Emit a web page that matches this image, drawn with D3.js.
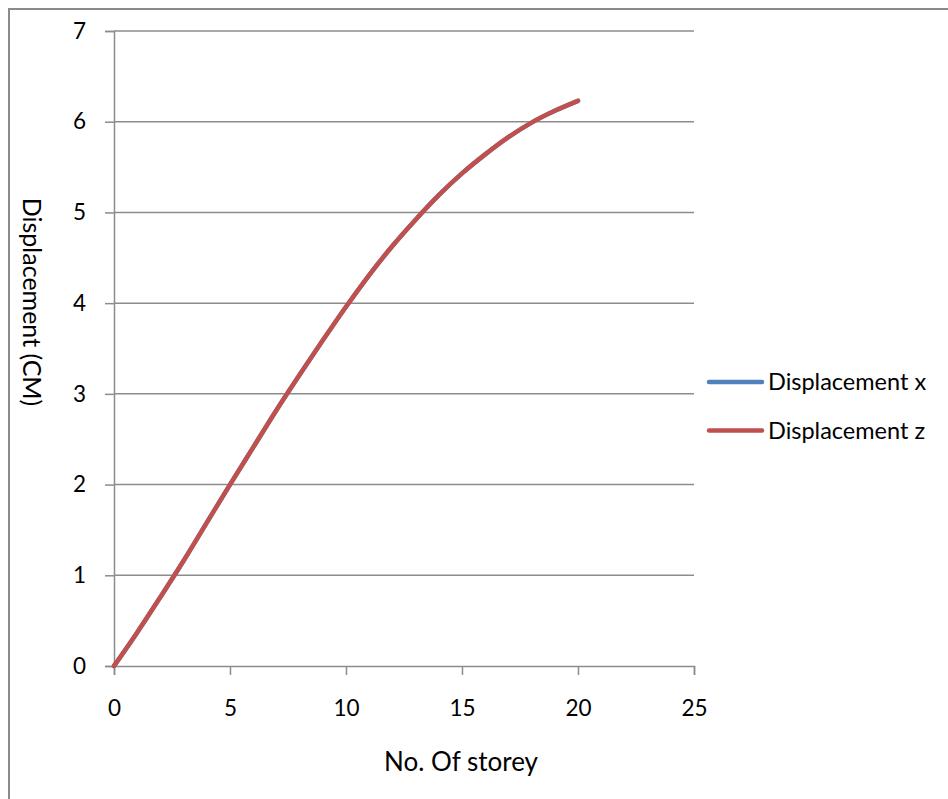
<!DOCTYPE html>
<html>
<head>
<meta charset="utf-8">
<script src="https://cdn.jsdelivr.net/npm/d3@7"></script>
<style>
  html, body { margin: 0; padding: 0; background: #fff; }
  svg { display: block; }
  text { font-family: Lato, "Open Sans", sans-serif; fill: #000; }
</style>
</head>
<body>
<svg id="chart" width="948" height="799"></svg>
<script>
// Storey numbers and lateral displacement (cm) at each storey
const storeys = [0,1,2,3,4,5,6,7,8,9,10,11,12,13,14,15,16,17,18,19,20];
const dispX = [0,0.37,0.76,1.16,1.58,2.00,2.41,2.82,3.21,3.59,3.96,4.31,4.63,4.92,5.19,5.43,5.64,5.83,5.99,6.12,6.23];
const dispZ = [0,0.37,0.76,1.16,1.58,2.00,2.41,2.82,3.21,3.59,3.96,4.31,4.63,4.92,5.19,5.43,5.64,5.83,5.99,6.12,6.23];
const xTicks = [0,5,10,15,20,25];
const yTicks = [0,1,2,3,4,5,6,7];
const seriesNames = ["Displacement x", "Displacement z"];
const seriesColors = ["#4F81BD", "#C0504D"];

const svg = d3.select("#chart");
const W = 948, H = 799;
const plotLeft = 114, plotRight = 694, plotTop = 31, plotBottom = 666;

// chart frame (top and left edges visible)
svg.append("path")
  .attr("d", `M9,${H} L9,9 L${W},9`)
  .attr("fill", "none").attr("stroke", "#8a8a8a").attr("stroke-width", 2);

const x = d3.scaleLinear().domain([0, 25]).range([plotLeft, plotRight]);
const y = d3.scaleLinear().domain([0, 7]).range([plotBottom, plotTop]);

// horizontal gridlines
svg.append("g").selectAll("line").data(yTicks.filter(d => d > 0)).join("line")
  .attr("x1", plotLeft).attr("x2", plotRight)
  .attr("y1", d => y(d)).attr("y2", d => y(d))
  .attr("stroke", "#8c8c8c").attr("stroke-width", 1.5);

// axes
const xAxis = svg.append("g").attr("transform", `translate(0,${plotBottom})`)
  .call(d3.axisBottom(x).tickValues(xTicks).tickSize(9).tickPadding(20).tickFormat(d3.format("d")));
const yAxis = svg.append("g").attr("transform", `translate(${plotLeft},0)`)
  .call(d3.axisLeft(y).tickValues(yTicks).tickSize(9).tickPadding(19).tickFormat(d3.format("d")));
[xAxis, yAxis].forEach(g => {
  g.select(".domain").attr("stroke", "#8c8c8c").attr("stroke-width", 1.5);
  g.selectAll(".tick line").attr("stroke", "#8c8c8c").attr("stroke-width", 1.5);
  g.selectAll(".tick text").attr("font-size", 22.5).attr("font-family", "Lato, 'Open Sans', sans-serif").attr("fill", "#000");
});
xAxis.selectAll(".tick text").attr("dy", "0.95em");

// axis titles
svg.append("text").attr("x", 461).attr("y", 771)
  .attr("text-anchor", "middle").attr("font-size", 26).text("No. Of storey");
svg.append("text")
  .attr("transform", "translate(23,302) rotate(90)")
  .attr("text-anchor", "middle").attr("font-size", 25).text("Displacement (CM)");

// series lines
const line = d3.line()
  .x((d, i) => x(storeys[i]))
  .y(d => y(d))
  .curve(d3.curveMonotoneX);
[dispX, dispZ].forEach((vals, k) => {
  svg.append("path").datum(vals)
    .attr("d", line)
    .attr("fill", "none")
    .attr("stroke", seriesColors[k])
    .attr("stroke-width", 4.5)
    .attr("stroke-linecap", "round")
    .attr("stroke-linejoin", "round");
});

// legend
const legend = svg.append("g");
seriesNames.forEach((name, k) => {
  const ly = 382 + k * 48.5;
  legend.append("line")
    .attr("x1", 709).attr("x2", 762).attr("y1", ly).attr("y2", ly)
    .attr("stroke", seriesColors[k]).attr("stroke-width", 4.5).attr("stroke-linecap", "round");
  legend.append("text").attr("x", 768).attr("y", ly + 8)
    .attr("font-size", 23.5).text(name);
});
</script>
</body>
</html>
